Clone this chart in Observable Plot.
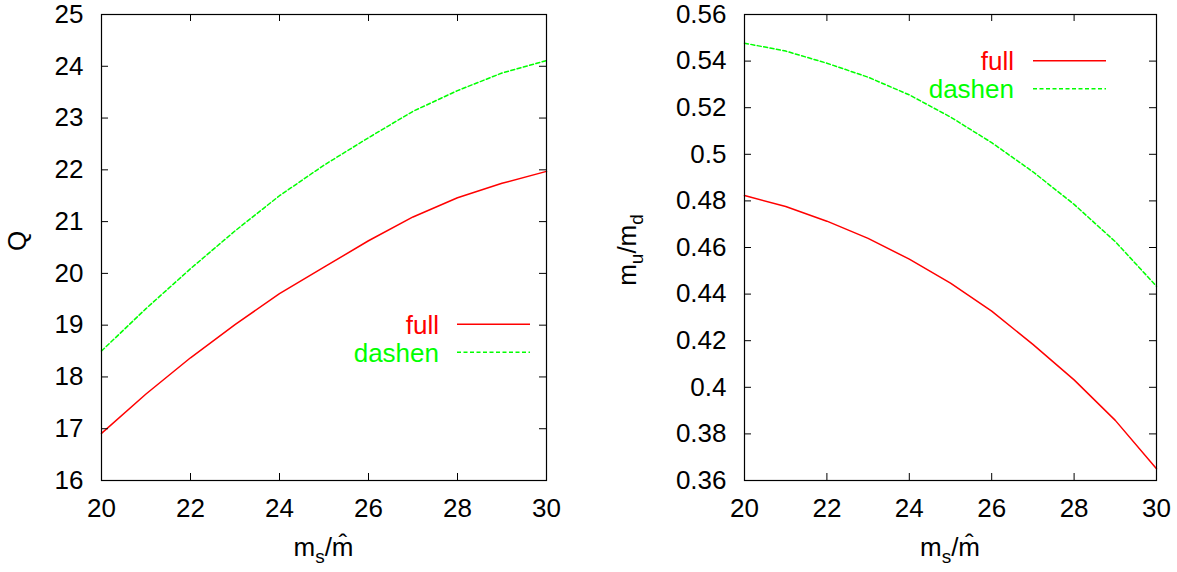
<!DOCTYPE html>
<html><head><meta charset="utf-8">
<script src="https://cdn.jsdelivr.net/npm/d3@7"></script>
<script src="https://cdn.jsdelivr.net/npm/@observablehq/plot@0.6"></script>
<style>
body{margin:0;background:#fff;}
#chart{position:relative;width:1177px;height:572px;overflow:hidden;}
#chart svg{position:absolute;top:0;font-family:"Liberation Sans",Arial,sans-serif;background:transparent;}
</style></head><body><div id="chart"></div>
<script>
// m_s / m-hat
const msRatio = [20, 21, 22, 23, 24, 25, 26, 27, 28, 29, 30];
// Q
const qFull   = [16.91, 17.67, 18.37, 19.01, 19.61, 20.12, 20.63, 21.09, 21.46, 21.74, 21.97];
const qDashen = [18.50, 19.32, 20.09, 20.82, 21.50, 22.09, 22.62, 23.13, 23.53, 23.87, 24.11];
// m_u / m_d
const rFull   = [0.4823, 0.4776, 0.4713, 0.4639, 0.4550, 0.4447, 0.4327, 0.4184, 0.4032, 0.3858, 0.3650];
const rDashen = [0.5477, 0.5443, 0.5391, 0.5331, 0.5255, 0.5160, 0.5050, 0.4925, 0.4785, 0.4625, 0.4434];
// ticks
const xTicks = [20, 22, 24, 26, 28, 30];
const qTicks = [16, 17, 18, 19, 20, 21, 22, 23, 24, 25];
const rTicks = [0.36, 0.38, 0.40, 0.42, 0.44, 0.46, 0.48, 0.50, 0.52, 0.54, 0.56];
const legendLabels = ["full", "dashen"];

const H = 572, MT = 14, MB = 92, FS = 26;

function panel({left, width, marginLeft, marginRight, yDomain, yTicks, full, dashen, legend, ylabel}) {
  const iw = width - marginLeft - marginRight;
  const ih = H - MT - MB;
  const fullData = msRatio.map((x, i) => ({x, y: full[i]}));
  const dashData = msRatio.map((x, i) => ({x, y: dashen[i]}));
  const svg = Plot.plot({
    width, height: H, marginLeft, marginRight, marginTop: MT, marginBottom: MB,
    style: {fontSize: FS + "px", fontFamily: '"Liberation Sans", Arial, sans-serif', background: "transparent", overflow: "visible"},
    x: {domain: [20, 30]},
    y: {domain: yDomain},
    marks: [
      Plot.line(fullData, {x: "x", y: "y", stroke: "#ff0000", strokeWidth: 1.5}),
      Plot.line(dashData, {x: "x", y: "y", stroke: "#00ff00", strokeWidth: 1.5, strokeDasharray: "4,2.5"}),
      Plot.tickX(xTicks, {x: d => d, insetTop: ih - 7, stroke: "#000"}),
      Plot.tickX(xTicks, {x: d => d, insetBottom: ih - 7, stroke: "#000"}),
      Plot.tickY(yTicks, {y: d => d, insetRight: iw - 7, stroke: "#000"}),
      Plot.tickY(yTicks, {y: d => d, insetLeft: iw - 7, stroke: "#000"}),
      Plot.frame({stroke: "#000", strokeWidth: 1.2}),
      Plot.axisX(xTicks, {tickSize: 0, tickPadding: 18, label: null, fontSize: FS, fill: "#000"}),
      Plot.axisY(yTicks, {tickSize: 0, tickPadding: 18, label: null, fontSize: FS, fill: "#000", tickFormat: d => String(+d.toFixed(2))})
    ]
  });
  svg.style.left = left + "px";
  const s = d3.select(svg);
  // x label m_s / m-hat
  const cx = marginLeft + iw / 2;
  const xl = s.append("text").attr("x", cx).attr("y", 556).attr("text-anchor", "middle")
    .attr("font-size", FS).attr("fill", "#000");
  xl.append("tspan").text("m");
  xl.append("tspan").attr("font-size", 19).attr("dy", 7).text("s");
  xl.append("tspan").attr("dy", -7).text("/m\u0302");
  // y label
  const yl = s.append("text").attr("transform", `translate(${ylabel.x},${ylabel.y}) rotate(-90)`)
    .attr("text-anchor", "middle").attr("dy", "0.35em").attr("font-size", FS).attr("fill", "#000");
  if (ylabel.text === "Q") {
    yl.text("Q");
  } else {
    yl.append("tspan").text("m");
    yl.append("tspan").attr("font-size", 19).attr("dy", 7).text("u");
    yl.append("tspan").attr("dy", -7).text("/m");
    yl.append("tspan").attr("font-size", 19).attr("dy", 7).text("d");
  }
  // legend
  const colors = ["#ff0000", "#00ff00"];
  legendLabels.forEach((lab, i) => {
    const ly = legend.y + i * 28;
    s.append("text").attr("x", legend.tx).attr("y", ly + 9.5).attr("text-anchor", "end")
      .attr("font-size", FS).attr("fill", colors[i]).text(lab);
    s.append("line").attr("x1", legend.x1).attr("x2", legend.x2).attr("y1", ly).attr("y2", ly)
      .attr("stroke", colors[i]).attr("stroke-width", 1.5)
      .attr("stroke-dasharray", i ? "4,2.5" : null);
  });
  document.getElementById("chart").appendChild(svg);
}

panel({left: 0, width: 588, marginLeft: 101, marginRight: 42, yDomain: [16, 25], yTicks: qTicks,
  full: qFull, dashen: qDashen,
  legend: {y: 324.3, tx: 439, x1: 457, x2: 530},
  ylabel: {text: "Q", x: 17, y: 241}});
panel({left: 588, width: 589, marginLeft: 156, marginRight: 21, yDomain: [0.36, 0.56], yTicks: rTicks,
  full: rFull, dashen: rDashen,
  legend: {y: 60.7, tx: 1014 - 588, x1: 1033 - 588, x2: 1106 - 588},
  ylabel: {text: "mu/md", x: 627 - 588, y: 250}});
</script></body></html>
